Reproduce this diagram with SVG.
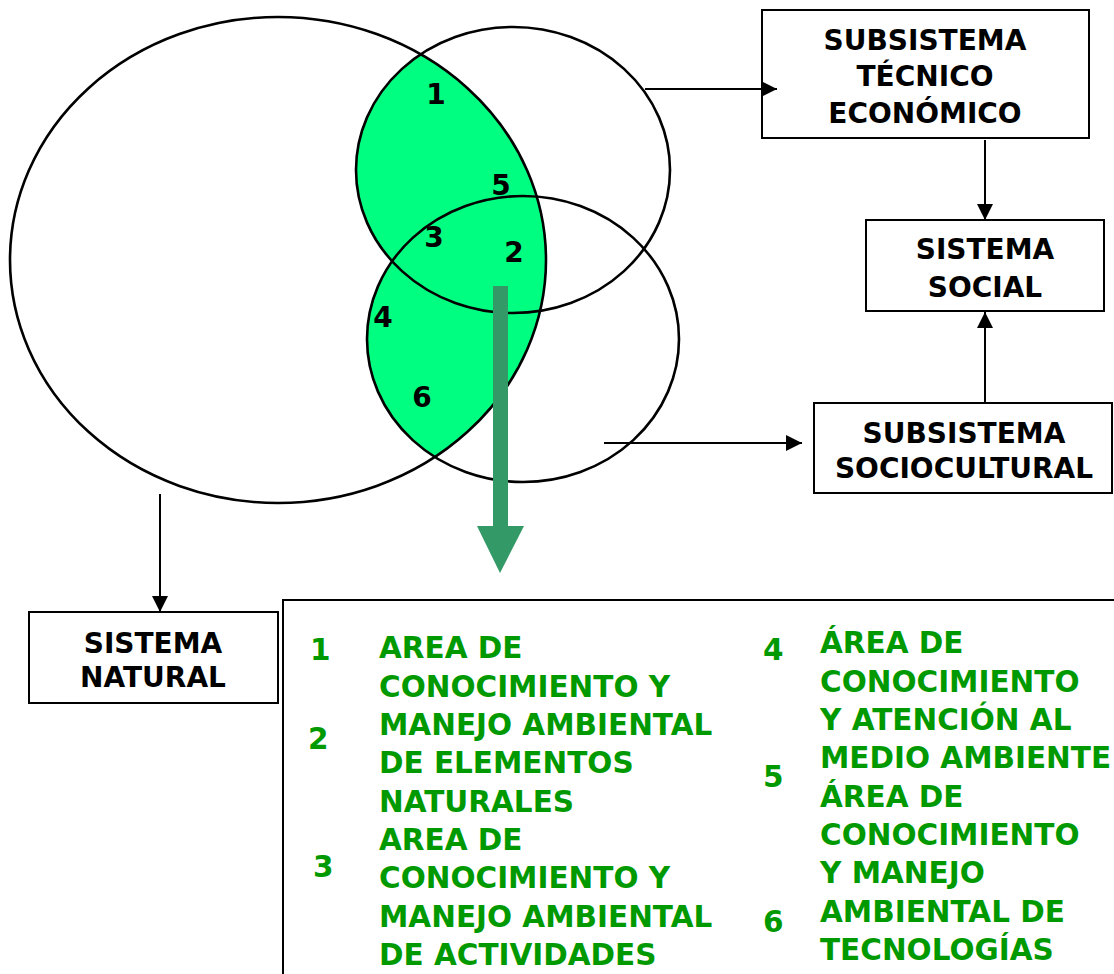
<svg xmlns="http://www.w3.org/2000/svg" width="1114" height="974" viewBox="0 0 1114 974">
<style>
.ln{fill:none;stroke:#000;stroke-width:2.6}
.box{fill:#fff;stroke:#000;stroke-width:2}
.bt{font-family:"DejaVu Sans",Verdana,sans-serif;font-weight:bold;font-size:28px;fill:#000;text-anchor:middle}
.num{font-family:"DejaVu Sans",Verdana,sans-serif;font-weight:bold;font-size:28px;fill:#000;text-anchor:middle}
.gt{font-family:"DejaVu Sans",Verdana,sans-serif;font-weight:bold;font-size:29.5px;fill:#009900}
.con{fill:none;stroke:#000;stroke-width:2}
</style>
<defs>
<marker id="ah" markerUnits="userSpaceOnUse" markerWidth="16" markerHeight="16" viewBox="0 0 16 16" refX="16" refY="8" orient="auto">
<path d="M0,0 L16,8 L0,16 Z" fill="#000"/>
</marker>
<clipPath id="bigClip"><ellipse cx="278" cy="260" rx="268" ry="243"/></clipPath>
</defs>
<rect width="1114" height="974" fill="#fff"/>
<g id="venn">
<g clip-path="url(#bigClip)" fill="#00ff80">
<ellipse cx="513" cy="170" rx="157" ry="143"/>
<ellipse cx="523" cy="339" rx="156" ry="143"/>
</g>
<ellipse class="ln" cx="278" cy="260" rx="268" ry="243"/>
<ellipse class="ln" cx="513" cy="170" rx="157" ry="143"/>
<ellipse class="ln" cx="523" cy="339" rx="156" ry="143"/>
<text class="num" x="436" y="104">1</text>
<text class="num" x="501" y="195">5</text>
<text class="num" x="434" y="247">3</text>
<text class="num" x="514" y="262">2</text>
<text class="num" x="383" y="327">4</text>
<text class="num" x="422" y="407">6</text>
</g>
<g id="tecnico">
<rect class="box" x="762" y="10" width="327" height="128"/>
<text class="bt" x="925" y="50">SUBSISTEMA</text>
<text class="bt" x="925" y="86">TÉCNICO</text>
<text class="bt" x="925" y="123">ECONÓMICO</text>
</g>
<g id="social">
<rect class="box" x="866" y="220" width="238" height="91"/>
<text class="bt" x="985" y="259">SISTEMA</text>
<text class="bt" x="985" y="297">SOCIAL</text>
</g>
<g id="sociocultural">
<rect class="box" x="814" y="403" width="298" height="90"/>
<text class="bt" x="964" y="443">SUBSISTEMA</text>
<text class="bt" x="964" y="478">SOCIOCULTURAL</text>
</g>
<g id="natural">
<rect class="box" x="29" y="612" width="249" height="91"/>
<text class="bt" x="153" y="653">SISTEMA</text>
<text class="bt" x="153" y="687">NATURAL</text>
</g>
<g id="legend">
<rect class="box" x="283" y="600" width="840" height="400"/>
<text class="gt" x="310" y="660">1</text>
<text class="gt" x="308" y="749">2</text>
<text class="gt" x="313" y="877">3</text>
<text class="gt" x="379" y="658">AREA DE</text>
<text class="gt" x="379" y="697">CONOCIMIENTO Y</text>
<text class="gt" x="379" y="735">MANEJO AMBIENTAL</text>
<text class="gt" x="379" y="773">DE ELEMENTOS</text>
<text class="gt" x="379" y="812">NATURALES</text>
<text class="gt" x="379" y="850">AREA DE</text>
<text class="gt" x="379" y="888">CONOCIMIENTO Y</text>
<text class="gt" x="379" y="927">MANEJO AMBIENTAL</text>
<text class="gt" x="379" y="965">DE ACTIVIDADES</text>
<text class="gt" x="763" y="660">4</text>
<text class="gt" x="763" y="787">5</text>
<text class="gt" x="763" y="932">6</text>
<text class="gt" x="820" y="653">ÁREA DE</text>
<text class="gt" x="820" y="692">CONOCIMIENTO</text>
<text class="gt" x="820" y="730">Y ATENCIÓN AL</text>
<text class="gt" x="820" y="768">MEDIO AMBIENTE</text>
<text class="gt" x="820" y="807">ÁREA DE</text>
<text class="gt" x="820" y="845">CONOCIMIENTO</text>
<text class="gt" x="820" y="883">Y MANEJO</text>
<text class="gt" x="820" y="922">AMBIENTAL DE</text>
<text class="gt" x="820" y="960">TECNOLOGÍAS</text>
</g>
<g id="connectors">
<line class="con" x1="645" y1="89" x2="777" y2="89" marker-end="url(#ah)"/>
<line class="con" x1="985" y1="140" x2="985" y2="220" marker-end="url(#ah)"/>
<line class="con" x1="985" y1="403" x2="985" y2="312" marker-end="url(#ah)"/>
<line class="con" x1="604" y1="443" x2="802" y2="443" marker-end="url(#ah)"/>
<line class="con" x1="160" y1="494" x2="160" y2="612" marker-end="url(#ah)"/>
<g id="green-arrow" fill="#339966">
<rect x="493" y="286" width="15" height="241"/>
<path d="M477,526 L524,526 L500,573 Z"/>
</g>
</g>
</svg>
